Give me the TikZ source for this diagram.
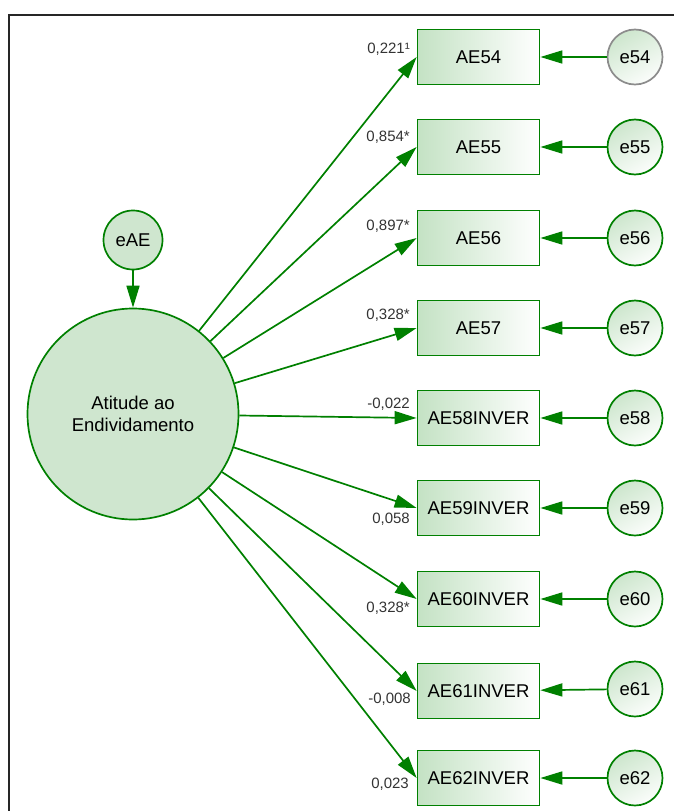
\documentclass[tikz,border=0pt]{standalone}
\usepackage{fontspec}
\setmainfont{Liberation Sans}
\usetikzlibrary{arrows.meta}
\definecolor{semgreen}{RGB}{0,128,0}
\definecolor{latfill}{RGB}{207,230,207}
\definecolor{boxgreen}{RGB}{196,226,196}
\definecolor{errgreen}{RGB}{205,230,205}
\definecolor{errgray}{RGB}{140,140,140}
\tikzset{
  link/.style={draw=semgreen, line width=1.7pt, -{Triangle[length=22pt,width=13pt]}},
  latent/.style={circle, draw=semgreen, line width=1.7pt, fill=latfill, inner sep=0pt,
    align=center, font=\fontsize{18.5}{22}\selectfont},
  errvar/.style={circle, draw=semgreen, line width=1.7pt, minimum size=55pt, inner sep=0pt,
    top color=errgreen, bottom color=white!92!errgreen, shading angle=30,
    font=\fontsize{18.5}{22}\selectfont},
  obs/.style={rectangle, draw=semgreen, line width=1.7pt, minimum width=122pt,
    minimum height=55pt, inner sep=0pt, left color=boxgreen, right color=white,
    font=\fontsize{18.5}{22}\selectfont},
  coef/.style={anchor=east, inner sep=0pt, font=\fontsize{15}{17}\selectfont, text=black!80}
}
\begin{document}
\begin{tikzpicture}[x=1pt,y=-1pt]
\useasboundingbox (0,0) rectangle (673,811);
% outer frame
\draw[line width=2pt, black!85] (9,830) -- (9,15) -- (690,15);

% latent factor and its disturbance
\node[latent, minimum size=211pt] (lat) at (133,414) {Atitude ao\\Endividamento};
\node[latent, minimum size=59pt] (eAE) at (133,240) {eAE};
\draw[link] (eAE) -- (lat);

% indicators
\node[obs] (b54) at (478.5,57)  {AE54};
\node[obs] (b55) at (478.5,147) {AE55};
\node[obs] (b56) at (478.5,238) {AE56};
\node[obs] (b57) at (478.5,328) {AE57};
\node[obs] (b58) at (478.5,418) {AE58INVER};
\node[obs] (b59) at (478.5,508) {AE59INVER};
\node[obs] (b60) at (478.5,599) {AE60INVER};
\node[obs] (b61) at (478.5,691) {AE61INVER};
\node[obs] (b62) at (478.5,778) {AE62INVER};

% measurement errors
\node[errvar, draw=errgray] (e54) at (635,57) {e54};
\node[errvar] (e55) at (635,147) {e55};
\node[errvar] (e56) at (635,238) {e56};
\node[errvar] (e57) at (635,328) {e57};
\node[errvar] (e58) at (635,418) {e58};
\node[errvar] (e59) at (635,508) {e59};
\node[errvar] (e60) at (635,599) {e60};
\node[errvar] (e61) at (635,689) {e61};
\node[errvar] (e62) at (635,778) {e62};

\foreach \k in {54,...,62}{
  \draw[link] (lat) -- (b\k.west);
  \draw[link] (e\k) -- (b\k);
}

% loadings
\node[coef] (c54) at (410,49)  {0,221¹};
\node[coef] (c55) at (410,137) {0,854*};
\node[coef] (c56) at (410,226) {0,897*};
\node[coef] (c57) at (410,315) {0,328*};
\node[coef] (c58) at (410,404) {-0,022};
\node[coef] (c59) at (410,519) {0,058};
\node[coef] (c60) at (410,608) {0,328*};
\node[coef] (c61) at (411,699) {-0,008};
\node[coef] (c62) at (409,784) {0,023};
\end{tikzpicture}
\end{document}
